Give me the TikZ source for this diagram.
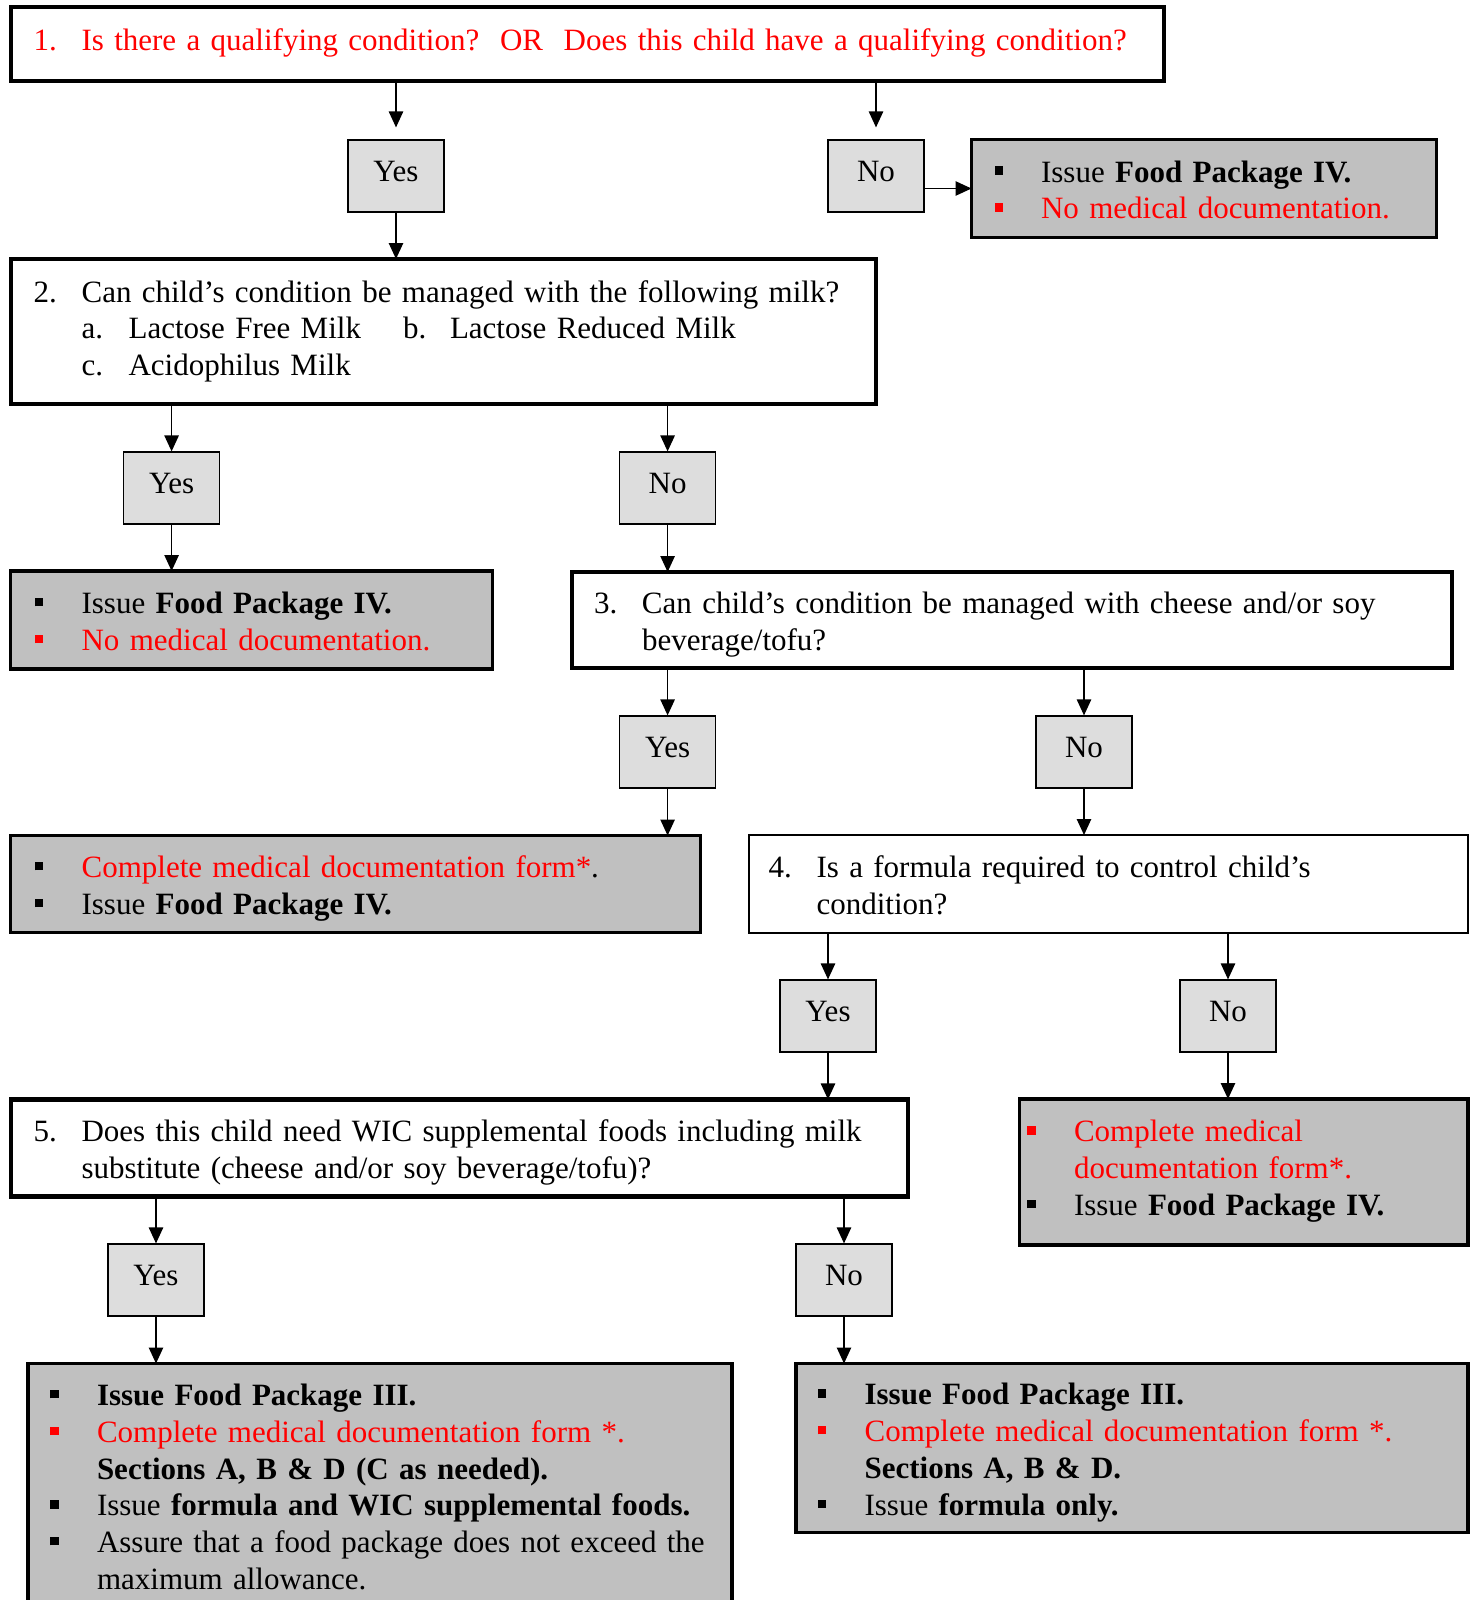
\documentclass[tikz,border=0pt]{standalone}
\usepackage{fontspec}
\setmainfont{Liberation Serif}
\usepackage{tikz}
\usetikzlibrary{
    arrows.meta,
    positioning,
    calc
}

\definecolor{ansgray}{HTML}{DDDDDD}
\definecolor{outgray}{HTML}{C0C0C0}

\newcommand{\qnum}[1]{\makebox[24pt][l]{#1}}
\newcommand{\qind}{\hspace*{24pt}}
\newcommand{\sqbul}[1]{\makebox[23.3pt][l]{\textcolor{#1}{\rule[3.6pt]{4.2pt}{4.2pt}}}}
\newcommand{\bulind}{\hspace*{23.3pt}}
\newcommand{\blines}[2][2.3pt]{\raisebox{-#1}[\height][\depth]{\begin{tabular}{@{}l@{}}#2\end{tabular}}}

\begin{document}
\begin{tikzpicture}[
    x=1pt, y=1pt,
    question/.style={rectangle, anchor=north west, draw=black, line width=2.25pt,
                     outer sep=0pt, align=left, inner xsep=11.3pt, inner ysep=0pt,
                     font=\fontsize{15.5}{18.4}\selectfont},
    outcome/.style={question, fill=outgray, line width=1.75pt, inner xsep=12.25pt},
    answer/.style={rectangle, minimum width=48pt, minimum height=36pt, inner sep=0pt,
                   text height=12.5pt, text depth=7.5pt, draw=black, fill=ansgray,
                   line width=0.6pt, font=\fontsize{15.5}{18.4}\selectfont},
    arrow/.style={->,>={Triangle[length=8pt,width=7.2pt]},line width=0.7pt}
]

    \useasboundingbox (0,0) rectangle (737.5,-800);

    \node (q1) [question, text=red, text width=553.9pt, minimum height=37pt] at (5.5,-3.5)
        {\blines[-0.5pt]{\qnum{1.}Is there a qualifying condition?\ \ OR\ \ Does this child have a qualifying condition?}};
    \node (yes1) [answer] at (198,-88) {Yes};
    \node (no1) [answer] at (438,-88) {No};
    \node (out1) [outcome, inner xsep=11.5pt, text width=209.5pt, minimum height=49pt] at (485.75,-69.75)
        {\blines{\sqbul{black}Issue \textbf{Food Package IV.}\\
         \sqbul{red}\textcolor{red}{No medical documentation.}}};

    \node (q2) [question, text width=409.9pt, minimum height=72.5pt] at (5.5,-129.5)
        {\blines[0pt]{\qnum{2.}Can child's condition be managed with the following milk?\\
         \qind\makebox[23.5pt][l]{a.}\makebox[137.3pt][l]{Lactose Free Milk}\makebox[23.4pt][l]{b.}Lactose Reduced Milk\\
         \qind\makebox[23.5pt][l]{c.}Acidophilus Milk}};
    \node (yes2) [answer] at (85.8,-244) {Yes};
    \node (no2) [answer] at (333.8,-244) {No};
    \node (out2) [outcome, text width=216.5pt, minimum height=49pt] at (5.25,-285.5)
        {\blines{\sqbul{black}Issue \textbf{Food Package IV.}\\
         \sqbul{red}\textcolor{red}{No medical documentation.}}};

    \node (q3) [question, inner xsep=11pt, text width=418pt, minimum height=48pt] at (286,-286)
        {\blines{\qnum{3.}Can child's condition be managed with cheese and/or soy\\
         \qind beverage/tofu?}};
    \node (yes3) [answer] at (333.8,-376) {Yes};
    \node (no3) [answer] at (542,-376) {No};
    \node (out3) [outcome, text width=320.5pt, minimum height=48.5pt] at (5.25,-417.75)
        {\blines{\sqbul{black}\textcolor{red}{Complete medical documentation form*}.\\
         \sqbul{black}Issue \textbf{Food Package IV.}}};

    \node (q4) [question, line width=1pt, inner xsep=9.8pt, text width=339.9pt, minimum height=49pt] at (374.5,-417.5)
        {\blines{\qnum{4.}Is a formula required to control child's\\
         \qind condition?}};
    \node (yes4) [answer] at (414,-508) {Yes};
    \node (no4) [answer] at (614,-508) {No};

    \node (q5) [question, text width=425.9pt, minimum height=48.5pt] at (5.5,-549.7)
        {\blines{\qnum{5.}Does this child need WIC supplemental foods including milk\\
         \qind substitute (cheese and/or soy beverage/tofu)?}};
    \node (out4) [outcome, inner xsep=4pt, text width=216.3pt, minimum height=73pt] at (509.7,-549.5)
        {\blines[-0.4pt]{\sqbul{red}\textcolor{red}{Complete medical}\\
         \bulind\textcolor{red}{documentation form*.}\\
         \sqbul{black}Issue \textbf{Food Package IV.}}};
    \node (yes5) [answer] at (78,-640) {Yes};
    \node (no5) [answer] at (422,-640) {No};

    \node (out5) [outcome, inner xsep=11.2pt, text width=329.6pt, minimum height=125pt] at (14,-681.75)
        {\blines[0.8pt]{\sqbul{black}\textbf{Issue Food Package III.}\\
         \sqbul{red}\textcolor{red}{Complete medical documentation form *.}\\
         \bulind\textbf{Sections A, B \& D (C as needed).}\\
         \sqbul{black}Issue \textbf{formula and WIC supplemental foods.}\\
         \sqbul{black}Assure that a food package does not exceed the\\
         \bulind maximum allowance.}};
    \node (out6) [outcome, inner xsep=11.1pt, text width=313.9pt, minimum height=84.5pt] at (397.9,-681.75)
        {\blines{\sqbul{black}\textbf{Issue Food Package III.}\\
         \sqbul{red}\textcolor{red}{Complete medical documentation form *.}\\
         \bulind\textbf{Sections A, B \& D.}\\
         \sqbul{black}Issue \textbf{formula only.}}};

    \draw [arrow, shorten >=6pt] (yes1 |- q1.south) -- (yes1.north);
    \draw [arrow, shorten >=6pt] (no1 |- q1.south) -- (no1.north);
    \draw [arrow] (no1.east |- out1.west) -- (out1.west);
    \draw [arrow] (yes1.south) -- (yes1.south |- q2.north);

    \draw [arrow] (yes2 |- q2.south) -- (yes2.north);
    \draw [arrow] (no2 |- q2.south) -- (no2.north);
    \draw [arrow] (yes2.south) -- (yes2.south |- out2.north);
    \draw [arrow] (no2.south) -- (no2.south |- q3.north);

    \draw [arrow] (yes3 |- q3.south) -- (yes3.north);
    \draw [arrow] (no3 |- q3.south) -- (no3.north);
    \draw [arrow] (yes3.south) -- (yes3.south |- out3.north);
    \draw [arrow] (no3.south) -- (no3.south |- q4.north);

    \draw [arrow] (yes4 |- q4.south) -- (yes4.north);
    \draw [arrow] (no4 |- q4.south) -- (no4.north);
    \draw [arrow] (yes4.south) -- (yes4.south |- q5.north);
    \draw [arrow] (no4.south) -- (no4.south |- out4.north);

    \draw [arrow] (yes5 |- q5.south) -- (yes5.north);
    \draw [arrow] (no5 |- q5.south) -- (no5.north);
    \draw [arrow] (yes5.south) -- (yes5.south |- out5.north);
    \draw [arrow] (no5.south) -- (no5.south |- out6.north);

\end{tikzpicture}
\end{document}
